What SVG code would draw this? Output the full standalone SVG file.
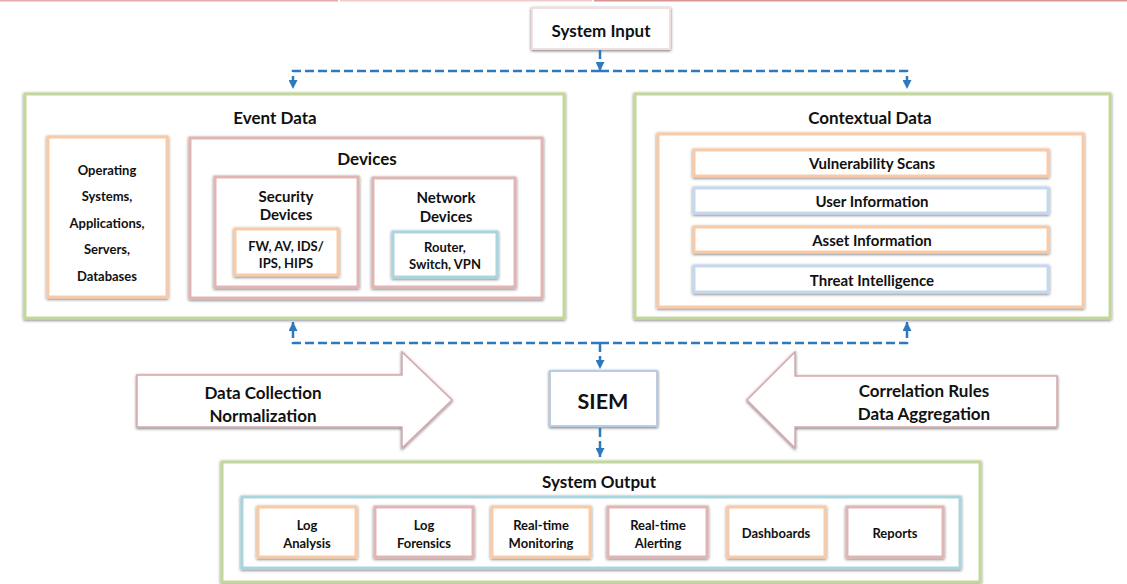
<svg xmlns="http://www.w3.org/2000/svg" width="1127" height="584" viewBox="0 0 1127 584">
<style>
  text { font-family: Lato, "Liberation Sans", sans-serif; font-weight: bold; fill: #111; text-anchor: middle; dominant-baseline: central; }
  .t17 { font-size: 17px; }
  .t15 { font-size: 15px; }
  .t14 { font-size: 14.5px; }
  .t13 { font-size: 13px; }
  .box { fill: #fff; stroke-width: 3; filter: url(#sh); }
  .green { stroke: #c4d79b; }
  .orange { stroke: #f9caa5; }
  .pink { stroke: #e2b5b5; }
  .teal { stroke: #a9d5df; }
  .blue { stroke: #c5d8ef; }
  .siem { stroke: #b8cce4; }
  .bigarrow { fill: #fff; stroke: #d8a6a6; stroke-width: 1.5; filter: url(#sh); }
  .conn path { fill: none; stroke: #2e78bd; stroke-width: 2.5; stroke-dasharray: 9 4; }
</style>
<defs>
  <filter id="sh" x="-10%" y="-20%" width="120%" height="140%">
    <feDropShadow dx="0" dy="1" stdDeviation="1.8" flood-color="#000" flood-opacity="0.55"/>
  </filter>
  <marker id="ah" viewBox="0 0 10 10" refX="10" refY="5" markerUnits="userSpaceOnUse" markerWidth="9" markerHeight="9" orient="auto">
    <path d="M0,0 L10,5 L0,10 z" fill="#2e78bd" stroke="none"/>
  </marker>
</defs>
<rect width="1127" height="584" fill="#fff"/>
<!-- top edge line -->
<rect x="0" y="0" width="338" height="1.5" fill="#e3aaaa"/>
<rect x="340" y="0" width="252" height="1.5" fill="#f0c9c9"/>
<rect x="594" y="0" width="533" height="1.5" fill="#d99494"/>

<g id="system-input">
  <rect class="box pink" x="532" y="8" width="138" height="41" style="stroke:#f3dede;stroke-width:2"/>
  <text class="t17" x="601" y="30">System Input</text>
</g>

<g id="event-data">
  <rect class="box green" x="25" y="94" width="539" height="224"/>
  <text class="t17" x="275" y="117">Event Data</text>
</g>
<g id="os-apps">
  <rect class="box orange" x="48" y="137" width="119" height="160"/>
  <text class="t13" x="107" y="170">Operating</text>
  <text class="t13" x="107" y="196">Systems,</text>
  <text class="t13" x="107" y="223">Applications,</text>
  <text class="t13" x="107" y="249">Servers,</text>
  <text class="t13" x="107" y="276">Databases</text>
</g>
<g id="devices">
  <rect class="box pink" x="190" y="138" width="352" height="160"/>
  <text class="t17" x="367" y="158">Devices</text>
</g>
<g id="security-devices">
  <rect class="box pink" x="215" y="177" width="143" height="110"/>
  <text class="t15" x="286" y="196">Security</text>
  <text class="t15" x="286" y="214">Devices</text>
</g>
<g id="fw-av">
  <rect class="box orange" x="235" y="229" width="103" height="46"/>
  <text class="t13" x="286" y="246">FW, AV, IDS/</text>
  <text class="t13" x="286" y="263">IPS, HIPS</text>
</g>
<g id="network-devices">
  <rect class="box pink" x="373" y="178" width="142" height="109"/>
  <text class="t15" x="446" y="197">Network</text>
  <text class="t15" x="446" y="216">Devices</text>
</g>
<g id="router">
  <rect class="box teal" x="393" y="232" width="104" height="45"/>
  <text class="t13" x="445" y="247">Router,</text>
  <text class="t13" x="445" y="264">Switch, VPN</text>
</g>

<g id="contextual-data">
  <rect class="box green" x="635" y="94" width="475" height="224"/>
  <text class="t17" x="870" y="117">Contextual Data</text>
  <rect class="box orange" x="658" y="134" width="425" height="173"/>
</g>
<g id="vulnerability-scans">
  <rect class="box orange" x="694" y="150" width="354" height="26"/>
  <text class="t15" x="872" y="163">Vulnerability Scans</text>
</g>
<g id="user-information">
  <rect class="box blue" x="694" y="188" width="354" height="25"/>
  <text class="t15" x="872" y="201">User Information</text>
</g>
<g id="asset-information">
  <rect class="box orange" x="694" y="227" width="354" height="25"/>
  <text class="t15" x="872" y="240">Asset Information</text>
</g>
<g id="threat-intelligence">
  <rect class="box blue" x="694" y="266" width="354" height="26"/>
  <text class="t15" x="872" y="280">Threat Intelligence</text>
</g>

<g id="data-collection">
  <polygon class="bigarrow" points="137,375 402,375 402,352 452,400 402,448 402,427 137,427"/>
  <text class="t17" x="263" y="392">Data Collection</text>
  <text class="t17" x="263" y="415">Normalization</text>
</g>
<g id="correlation-rules">
  <polygon class="bigarrow" points="1057,376 795,376 795,352 747,400 795,448 795,427 1057,427"/>
  <text class="t17" x="924" y="390">Correlation Rules</text>
  <text class="t17" x="924" y="413">Data Aggregation</text>
</g>

<g id="siem">
  <rect class="box siem" x="550" y="371" width="107" height="55" style="stroke-width:2"/>
  <text x="603" y="401" style="font-size:21.5px">SIEM</text>
</g>

<g id="system-output">
  <rect class="box green" x="222" y="462" width="758" height="120"/>
  <text class="t17" x="599" y="481">System Output</text>
  <rect class="box teal" x="242" y="497" width="718" height="71"/>
</g>
<g id="log-analysis">
  <rect class="box orange" x="258" y="507" width="98" height="50"/>
  <text class="t13" x="307" y="525">Log</text>
  <text class="t13" x="307" y="543">Analysis</text>
</g>
<g id="log-forensics">
  <rect class="box pink" x="375" y="507" width="98" height="50"/>
  <text class="t13" x="424" y="525">Log</text>
  <text class="t13" x="424" y="543">Forensics</text>
</g>
<g id="rt-monitoring">
  <rect class="box orange" x="492" y="507" width="98" height="50"/>
  <text class="t13" x="541" y="525">Real-time</text>
  <text class="t13" x="541" y="543">Monitoring</text>
</g>
<g id="rt-alerting">
  <rect class="box pink" x="608" y="507" width="99" height="50"/>
  <text class="t13" x="658" y="525">Real-time</text>
  <text class="t13" x="658" y="543">Alerting</text>
</g>
<g id="dashboards">
  <rect class="box orange" x="728" y="507" width="97" height="50"/>
  <text class="t13" x="776" y="533">Dashboards</text>
</g>
<g id="reports">
  <rect class="box pink" x="847" y="507" width="96" height="50"/>
  <text class="t13" x="895" y="533">Reports</text>
</g>

<g id="connectors" class="conn">
  <path d="M600,50 V71" marker-end="url(#ah)"/>
  <path d="M600,71 H293 V89" marker-end="url(#ah)"/>
  <path d="M600,71 H907 V89" marker-end="url(#ah)"/>
  <path d="M600,343 H293 V322" marker-end="url(#ah)"/>
  <path d="M600,343 H907 V322" marker-end="url(#ah)"/>
  <path d="M600,343 V369" marker-end="url(#ah)"/>
  <path d="M600,428 V457" marker-end="url(#ah)"/>
</g>
</svg>
